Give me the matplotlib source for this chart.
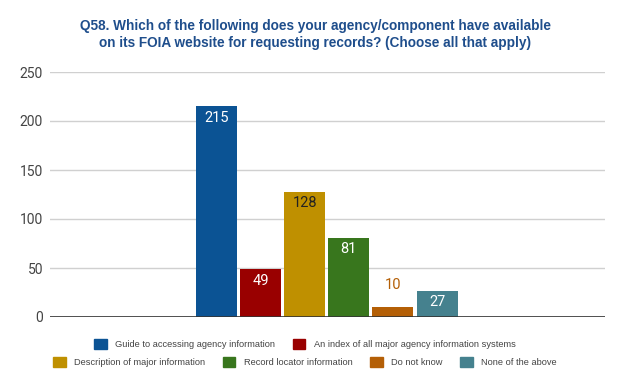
import matplotlib
matplotlib.use("Agg")
import matplotlib.pyplot as plt
from matplotlib.patches import Patch

series = ["Guide to accessing agency information",
          "An index of all major agency information systems",
          "Description of major information",
          "Record locator information",
          "Do not know",
          "None of the above"]
values = [215, 49, 128, 81, 10, 27]
colors = ["#0B5394", "#990000", "#BF9000", "#38761D", "#B45F06", "#45818E"]
label_colors = ["white", "white", "#222222", "white", "#B45F06", "white"]
yticks = [0, 50, 100, 150, 200, 250]
title_lines = ["Q58. Which of the following does your agency/component have available",
               "on its FOIA website for requesting records? (Choose all that apply)"]

fig = plt.figure(figsize=(6.24, 3.89), dpi=100)
ax = fig.add_axes([50/624, 1-317/389, (605-50)/624, (317-72)/389])

xs = list(range(len(values)))
bars = ax.bar(xs, values, width=0.93, color=colors, zorder=3)
for b, v, lc in zip(bars, values, label_colors):
    cx = b.get_x() + b.get_width()/2
    if v < 20:
        ax.text(cx, v + 16, str(v), ha="center", va="bottom", color=lc,
                fontsize=10.5, family="Roboto", zorder=4)
    else:
        ax.text(cx, v - 12, str(v), ha="center", va="center", color=lc,
                fontsize=10.5, family="Roboto", zorder=4)

ax.set_xlim(-3.78, 8.81)
ax.set_ylim(0, 250)
ax.set_yticks(yticks)
ax.set_yticklabels([str(t) for t in yticks], family="Roboto", fontsize=10, color="#444444")
ax.set_xticks([])
ax.tick_params(axis="y", length=0, pad=5)
for s in ax.spines.values():
    s.set_visible(False)
ax.yaxis.grid(True, color="#D0D0D0", linewidth=1, zorder=0)
ax.axhline(0, color="#333333", linewidth=1.2, zorder=5)

for line, yc in zip(title_lines, [26, 43]):
    fig.text(315/624, 1-yc/389, line, ha="center", va="center", fontsize=9.8,
             fontweight="bold", color="#1F4E8C", family="Liberation Sans")

handles = [Patch(facecolor=c, edgecolor=c) for c in colors]
kw = dict(frameon=False, handlelength=1.35, handleheight=1.35, handletextpad=0.9,
          columnspacing=1.9, prop={"family": "Liberation Sans", "size": 6.7},
          labelcolor="#444444", loc="center", borderaxespad=0)
fig.legend(handles[:2], series[:2], ncol=2, bbox_to_anchor=(305/624, 1-344/389), **kw)
fig.legend(handles[2:], series[2:], ncol=4, bbox_to_anchor=(305/624, 1-362/389), **kw)

fig.savefig("out.png", dpi=100)
